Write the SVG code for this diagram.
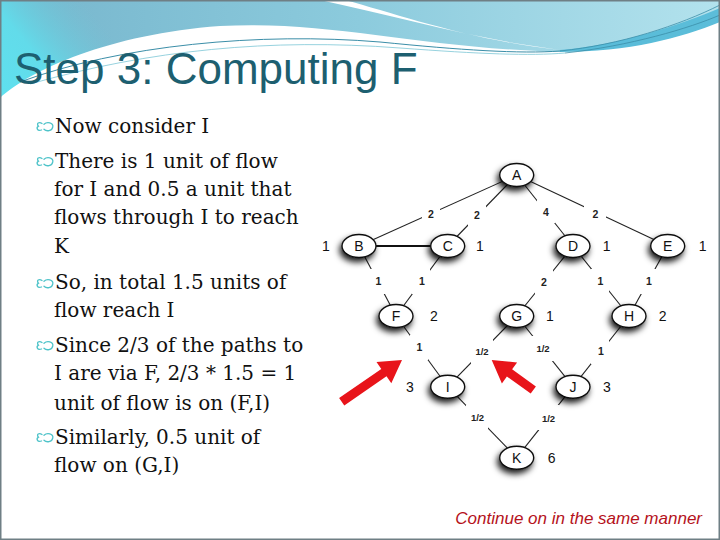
<svg xmlns="http://www.w3.org/2000/svg" width="720" height="540" viewBox="0 0 720 540">
<defs>
<linearGradient id="hdr" x1="0" y1="0" x2="1" y2="0">
<stop offset="0" stop-color="#76b5cc"/>
<stop offset="0.5" stop-color="#8ccbdd"/>
<stop offset="1" stop-color="#b3e2ed"/>
</linearGradient>
<linearGradient id="cy" gradientUnits="userSpaceOnUse" x1="0" y1="85" x2="90" y2="10">
<stop offset="0" stop-color="#5fe0ee"/>
<stop offset="0.4" stop-color="#62dbea"/>
<stop offset="1" stop-color="#6fc6d8" stop-opacity="0"/>
</linearGradient>
<filter id="sh" x="-50%" y="-50%" width="200%" height="220%">
<feDropShadow dx="-2" dy="4" stdDeviation="3" flood-color="#000" flood-opacity="0.9"/>
</filter>
<path id="bul" d="M6,1.5 C3,-0.5 0,1.5 2.5,4.2 C0,5.5 1,9.5 5.5,8 M8,2.2 C11,-0.5 17.5,0.5 16.8,4.8 C16,9.2 10.5,9.8 8,7.2" fill="none" stroke="#4ec3c9" stroke-width="1.3" stroke-linecap="round"/>
</defs>
<style>
.t{font-family:"DejaVu Serif","Liberation Serif",serif;font-size:20px;fill:#111}
.nd ellipse{fill:#fff;stroke:#111;stroke-width:1.4}
.nl{font-family:"Liberation Sans",Arial,sans-serif;font-size:14px;fill:#111;text-anchor:middle}
.sn{font-family:"Liberation Sans",Arial,sans-serif;font-size:14px;fill:#111;text-anchor:middle}
.el{font-family:"Liberation Sans",Arial,sans-serif;font-size:10.5px;font-weight:bold;fill:#222;text-anchor:middle}
.eh{font-family:"Liberation Sans",Arial,sans-serif;font-size:9.5px;font-weight:bold;fill:#222;text-anchor:middle}
.cn line{stroke:#222;stroke-width:1.1}
.gap{fill:#fff}
</style>
<rect x="0" y="0" width="720" height="540" fill="#fcfcfc"/>
<rect x="258" y="138" width="462" height="364" fill="#fff"/>
<rect x="240" y="501" width="479" height="37" fill="#f3f3f3"/>
<!-- header -->
<rect x="0" y="0" width="720" height="100" fill="url(#hdr)"/>
<rect x="0" y="0" width="720" height="100" fill="url(#cy)"/>
<path d="M320,0 C390,15 450,32 520,44 L560,50 C470,40 400,15 345,0 Z" fill="#fff"/>
<path d="M560,50 C620,45 680,25 720,8 V40 C680,50 620,55 560,52 Z" fill="#46b4d4" opacity="0.8"/>
<path d="M0,98 C30,70 110,34 220,26 C330,20 420,48 560,52 C630,52 680,38 720,22 V540 H0 Z" fill="#fff"/>
<path d="M20,82 C120,45 260,32 380,42 C460,50 520,54 560,51" fill="none" stroke="#3b8ea8" stroke-width="1"/>
<path d="M30,84 C150,50 270,38 400,48 C480,54 530,56 565,53" fill="none" stroke="#7cc6d6" stroke-width="0.8"/>
<path d="M560,51 C620,45 680,25 720,5 M565,53 C630,46 690,28 720,15" fill="none" stroke="#3b8ea8" stroke-width="0.8"/>
<rect x="0.75" y="0.75" width="718.5" height="538.5" fill="none" stroke="#6f7f85" stroke-width="1.5"/>
<!-- title -->
<text x="14" y="84" font-family="'Liberation Sans',Arial,sans-serif" font-size="44" fill="#1d5f70">Step 3: Computing F</text>
<!-- body text -->
<g id="bullets">
<use href="#bul" x="36" y="122"/>
<use href="#bul" x="36" y="157"/>
<use href="#bul" x="36" y="279"/>
<use href="#bul" x="36" y="341"/>
<use href="#bul" x="36" y="433"/>
</g>
<g id="body">
<text class="t" x="55" y="133">Now consider I</text>
<text class="t" x="55" y="168">There is 1 unit of flow</text>
<text class="t" x="54" y="196">for I and 0.5 a unit that</text>
<text class="t" x="54" y="224">flows through I to reach</text>
<text class="t" x="54" y="253">K</text>
<text class="t" x="55" y="289">So, in total 1.5 units of</text>
<text class="t" x="54" y="317">flow reach I</text>
<text class="t" x="55" y="352">Since 2/3 of the paths to</text>
<text class="t" x="54" y="380">I are via F, 2/3 * 1.5 = 1</text>
<text class="t" x="54" y="410">unit of flow is on (F,I)</text>
<text class="t" x="55" y="444">Similarly, 0.5 unit of</text>
<text class="t" x="54" y="472">flow on (G,I)</text>
</g>
<!-- connectors -->
<g id="connectors" class="cn">
<line x1="516.7" y1="175" x2="359" y2="246"/>
<line x1="516.7" y1="175" x2="447.7" y2="246"/>
<line x1="516.7" y1="175" x2="573" y2="246"/>
<line x1="516.7" y1="175" x2="667.7" y2="246"/>
<line x1="359" y1="246" x2="447.7" y2="246" style="stroke:#111;stroke-width:2.2"/>
<line x1="359" y1="246" x2="396" y2="316"/>
<line x1="447.7" y1="246" x2="396" y2="316"/>
<line x1="573" y1="246" x2="516.7" y2="316"/>
<line x1="573" y1="246" x2="629" y2="316"/>
<line x1="667.7" y1="246" x2="629" y2="316"/>
<line x1="396" y1="316" x2="447.7" y2="386.7"/>
<line x1="516.7" y1="316" x2="447.7" y2="386.7"/>
<line x1="516.7" y1="316" x2="573" y2="386.7"/>
<line x1="629" y1="316" x2="573" y2="386.7"/>
<line x1="447.7" y1="386.7" x2="516.7" y2="457.7"/>
<line x1="573" y1="386.7" x2="516.7" y2="457.7"/>
</g>
<g id="edge-labels">
<rect class="gap" x="422" y="204" width="18" height="20"/><text class="el" x="431" y="217.5">2</text>
<rect class="gap" x="468" y="203" width="18" height="24"/><text class="el" x="477" y="218.5">2</text>
<rect class="gap" x="537" y="200" width="18" height="23"/><text class="el" x="546" y="215.5">4</text>
<rect class="gap" x="584" y="205" width="22" height="18"/><text class="el" x="595.5" y="217.5">2</text>
<rect class="gap" x="369" y="269" width="18" height="25"/><text class="el" x="378.5" y="285">1</text>
<rect class="gap" x="412" y="269" width="18" height="25"/><text class="el" x="422" y="285">1</text>
<rect class="gap" x="535" y="270" width="18" height="25"/><text class="el" x="544" y="286">2</text>
<rect class="gap" x="591" y="269" width="18" height="25"/><text class="el" x="600.5" y="285">1</text>
<rect class="gap" x="640" y="269" width="18" height="25"/><text class="el" x="649" y="285">1</text>
<rect class="gap" x="410" y="335" width="18" height="25"/><text class="el" x="419.5" y="351">1</text>
<rect class="gap" x="471" y="339" width="22" height="25"/><text class="eh" x="482" y="355">1/2</text>
<rect class="gap" x="532" y="336" width="22" height="25"/><text class="eh" x="543" y="351.5">1/2</text>
<rect class="gap" x="591" y="339" width="18" height="25"/><text class="el" x="601" y="355">1</text>
<rect class="gap" x="466" y="405" width="22" height="25"/><text class="eh" x="477.5" y="421">1/2</text>
<rect class="gap" x="537" y="405" width="22" height="25"/><text class="eh" x="548.5" y="421.5">1/2</text>
</g>
<!-- nodes -->
<g id="node-A" class="nd"><ellipse cx="516.7" cy="175" rx="17" ry="11.5" filter="url(#sh)"/><text class="nl" x="516.7" y="180">A</text></g>
<g id="node-B" class="nd"><ellipse cx="359" cy="246" rx="17" ry="11.5" filter="url(#sh)"/><text class="nl" x="359" y="251">B</text><text class="sn" x="326" y="251">1</text></g>
<g id="node-C" class="nd"><ellipse cx="447.7" cy="246" rx="17" ry="11.5" filter="url(#sh)"/><text class="nl" x="447.7" y="251">C</text><text class="sn" x="480" y="251">1</text></g>
<g id="node-D" class="nd"><ellipse cx="573" cy="246" rx="17" ry="11.5" filter="url(#sh)"/><text class="nl" x="573" y="251">D</text><text class="sn" x="606.7" y="251">1</text></g>
<g id="node-E" class="nd"><ellipse cx="667.7" cy="246" rx="17" ry="11.5" filter="url(#sh)"/><text class="nl" x="667.7" y="251">E</text><text class="sn" x="702.7" y="251">1</text></g>
<g id="node-F" class="nd"><ellipse cx="396" cy="316" rx="17" ry="11.5" filter="url(#sh)"/><text class="nl" x="396" y="321">F</text><text class="sn" x="434" y="321">2</text></g>
<g id="node-G" class="nd"><ellipse cx="516.7" cy="316" rx="17" ry="11.5" filter="url(#sh)"/><text class="nl" x="516.7" y="321">G</text><text class="sn" x="550" y="321">1</text></g>
<g id="node-H" class="nd"><ellipse cx="629" cy="316" rx="17" ry="11.5" filter="url(#sh)"/><text class="nl" x="629" y="321">H</text><text class="sn" x="662.7" y="321">2</text></g>
<g id="node-I" class="nd"><ellipse cx="447.7" cy="386.7" rx="17" ry="11.5" filter="url(#sh)"/><text class="nl" x="447.7" y="391.7">I</text><text class="sn" x="410" y="391.7">3</text></g>
<g id="node-J" class="nd"><ellipse cx="573" cy="386.7" rx="17" ry="11.5" filter="url(#sh)"/><text class="nl" x="573" y="391.7">J</text><text class="sn" x="607" y="391.7">3</text></g>
<g id="node-K" class="nd"><ellipse cx="516.7" cy="457.7" rx="17" ry="11.5" filter="url(#sh)"/><text class="nl" x="516.7" y="462.7">K</text><text class="sn" x="551.7" y="462.7">6</text></g>
<!-- red arrows -->
<g id="arrows" fill="#e8141a">
<polygon points="402,360 391.3,383.3 386.5,376.3 344.3,405.4 339.1,398 381.3,368.9 376.5,361.9"/>
<polygon points="491.7,360 517.1,362.4 512.1,369.3 535.9,386.4 530.7,393.6 506.9,376.5 501.9,383.4"/>
</g>
<text x="702" y="524" text-anchor="end" font-family="'Liberation Sans',Arial,sans-serif" font-size="17" font-style="italic" fill="#b5121b">Continue on in the same manner</text>
</svg>
